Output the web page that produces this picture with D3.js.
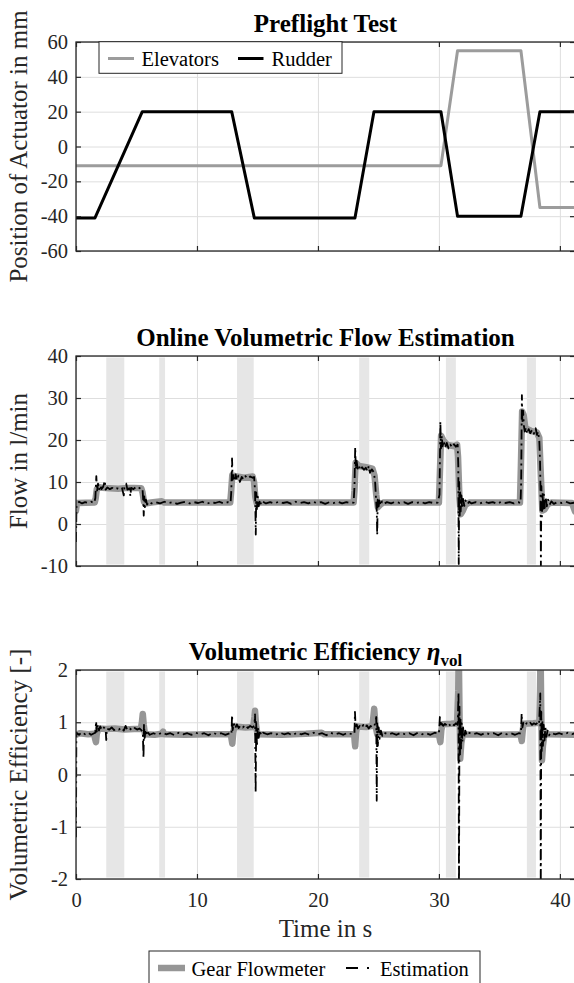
<!DOCTYPE html>
<html>
<head>
<meta charset="utf-8">
<script src="https://cdn.jsdelivr.net/npm/d3@7"></script>
<style>
  body { margin: 0; background: #fff; }
  svg, svg text { font-family: "Liberation Serif", "LiberationSerif", "Tinos", "Times New Roman", Times, "DejaVu Serif", serif; }
</style>
</head>
<body>
<svg id="fig" width="574" height="983"></svg>
<script>
// ---------- data ----------
// Preflight test: actuator positions (mm) at the ramp corners
const rudderTime = [0, 1.57, 5.48, 12.87, 14.74, 23.06, 24.63, 30.17, 31.54, 36.78, 38.35, 41.25];
const rudderPos  = [-41, -41, 20, 20, -41, -41, 20, 20, -40, -40, 20, 20];
const elevTime   = [0, 30.17, 31.54, 36.78, 38.35, 41.25];
const elevPos    = [-11, -11, 55, 55, -35, -35];

// Shaded intervals (s)
const bandStart = [2.50, 6.88, 13.31, 23.41, 30.58, 37.27];
const bandEnd   = [3.99, 7.36, 14.69, 24.24, 31.40, 38.02];

// Gear flowmeter, volumetric flow (l/min)
const gearFlowTime = [0, 0.08, 1.55, 1.62, 1.72, 1.85, 2.2, 2.8, 3.5, 4.2, 4.8, 5.4, 5.5, 5.62, 5.75, 6.2, 7.1, 7.3,
  12.75, 12.82, 12.92, 13.3, 13.9, 14.6, 14.72, 14.82, 14.95, 15.2,
  22.95, 23.02, 23.12, 23.4, 24.0, 24.5, 24.68, 24.82, 24.95, 25.15, 25.4,
  30.0, 30.08, 30.18, 30.35, 30.7, 31.3, 31.5, 31.58, 31.7, 31.8, 31.95, 32.2, 32.5,
  36.7, 36.78, 36.88, 37.0, 37.15, 37.6, 38.1, 38.3, 38.42, 38.55, 38.75, 39.0, 39.3, 41.0, 41.25];
const gearFlow = [3.2, 5.0, 5.1, 6.0, 8.3, 8.8, 8.6, 8.5, 8.4, 8.6, 8.6, 8.5, 7.5, 5.3, 4.9, 5.1, 5.4, 5.1,
  5.1, 7.5, 11.6, 11.3, 11.0, 11.3, 10.0, 6.5, 4.8, 5.1,
  5.1, 8.0, 14.6, 13.8, 13.5, 13.2, 11.5, 7.0, 4.0, 4.6, 5.1,
  5.1, 12.0, 21.0, 20.0, 18.8, 18.5, 18.9, 16.0, 6.0, 2.3, 3.0, 4.6, 5.1,
  5.1, 14.0, 26.8, 26.0, 22.8, 22.2, 21.8, 20.5, 12.0, 3.2, 3.5, 4.8, 5.1, 5.0, 3.0];

// Online estimation, volumetric flow (l/min)
const estFlowTime = [0, 0.04, 0.25, 0.5, 0.75, 1.0, 1.25, 1.5, 1.6, 1.68, 1.74, 1.82, 1.9, 2.0, 2.1, 2.25, 2.38, 2.45,
  2.6, 2.8, 3.0, 3.2, 3.4, 3.6, 3.8, 3.95, 4.0, 4.15, 4.25, 4.4, 4.5, 4.55, 4.75, 4.95, 5.15, 5.35, 5.5,
  5.56, 5.6, 5.64, 5.7, 5.78, 5.88, 6.0, 6.25,
  6.6, 6.95, 7.3, 7.65, 8.0, 8.35, 8.7, 9.05, 9.4, 9.75, 10.1, 10.45, 10.8, 11.15, 11.5, 11.85, 12.2, 12.55, 12.78,
  12.84, 12.9, 12.95, 13.02, 13.1, 13.2, 13.3, 13.42, 13.55, 13.7, 13.85, 14.0, 14.2, 14.4, 14.6, 14.72,
  14.8, 14.86, 14.9, 14.95, 15.02, 15.1, 15.2, 15.3, 15.45, 15.7,
  16.05, 16.4, 16.75, 17.1, 17.45, 17.8, 18.15, 18.5, 18.85, 19.2, 19.55, 19.9, 20.25, 20.6, 20.95, 21.3, 21.65, 22.0, 22.35, 22.7, 22.95,
  23.02, 23.08, 23.13, 23.2, 23.28, 23.38, 23.5, 23.65, 23.8, 23.95, 24.1, 24.2, 24.3, 24.45, 24.6, 24.72,
  24.8, 24.86, 24.9, 24.94, 25.0, 25.08, 25.18, 25.3, 25.45, 25.7,
  26.05, 26.4, 26.75, 27.1, 27.45, 27.8, 28.15, 28.5, 28.85, 29.2, 29.55, 29.9,
  30.05, 30.12, 30.17, 30.24, 30.3, 30.4, 30.52, 30.65, 30.8, 30.95, 31.1, 31.25, 31.4, 31.55,
  31.6, 31.64, 31.68, 31.72, 31.76, 31.8, 31.86, 31.92, 32.0, 32.1, 32.2, 32.35, 32.5, 32.7,
  33.05, 33.4, 33.75, 34.1, 34.45, 34.8, 35.15, 35.5, 35.85, 36.2, 36.55, 36.75,
  36.8, 36.86, 36.9, 36.96, 37.02, 37.1, 37.2, 37.3, 37.42, 37.55, 37.7, 37.85, 38.0, 38.1, 38.2, 38.3,
  38.36, 38.4, 38.43, 38.47, 38.52, 38.57, 38.62, 38.68, 38.75, 38.83, 38.92, 39.02, 39.15, 39.3, 39.5,
  39.8, 40.15, 40.5, 40.85, 41.25];
const estFlow = [-4.3, 4.6, 5.3, 4.9, 5.2, 5.0, 5.3, 5.0, 6.2, 11.4, 7.8, 9.6, 8.1, 9.2, 8.3, 8.9, 10.3, 8.2,
  8.7, 8.3, 8.6, 8.2, 8.5, 8.3, 8.6, 6.8, 8.7, 9.6, 8.2, 8.5, 6.6, 8.6, 8.3, 8.8, 8.4, 8.7, 8.3,
  5.5, 2.0, 6.6, 4.0, 5.8, 4.6, 5.3, 4.9,
  5.2, 4.9, 5.3, 5.0, 5.2, 4.8, 5.1, 5.3, 4.9, 5.2, 5.0, 5.3, 4.8, 5.2, 5.0, 5.3, 4.9, 5.2, 5.0,
  8.0, 15.6, 10.5, 12.0, 10.2, 11.8, 10.4, 11.5, 10.0, 11.2, 10.6, 11.4, 10.8, 11.3, 11.0, 11.2,
  8.0, -2.5, 7.5, 3.5, 6.5, 4.2, 5.8, 4.6, 5.3, 4.9,
  5.2, 4.9, 5.3, 5.0, 5.2, 4.8, 5.3, 5.0, 5.2, 4.9, 5.3, 5.0, 5.2, 4.8, 5.2, 5.0, 5.3, 4.9, 5.2, 5.0, 5.1,
  9.0, 18.3, 13.0, 15.0, 13.2, 14.0, 12.8, 13.5, 12.9, 13.4, 12.6, 13.8, 12.2, 13.0, 12.4, 10.5,
  6.0, 3.2, -2.6, 5.8, 3.6, 5.6, 4.4, 5.4, 4.8, 5.2,
  4.9, 5.3, 5.0, 5.2, 4.8, 5.2, 5.0, 5.3, 4.9, 5.2, 5.0, 5.1,
  7.0, 24.4, 18.0, 21.0, 18.5, 19.8, 18.2, 19.3, 18.0, 18.9, 18.2, 19.0, 18.4, 18.9,
  14.0, -9.5, 10.0, 2.0, 7.5, 3.0, 6.8, 3.8, 6.0, 4.3, 5.6, 4.7, 5.3, 4.9,
  5.2, 4.9, 5.3, 5.0, 5.2, 4.8, 5.3, 5.0, 5.2, 4.9, 5.2, 5.0,
  10.0, 30.7, 24.0, 27.0, 23.5, 22.0, 23.0, 21.5, 22.6, 21.6, 22.4, 21.5, 22.8, 21.2, 22.0, 19.8,
  15.0, 8.0, -10.0, 9.0, 1.8, 7.5, 3.0, 7.0, 3.8, 6.3, 4.2, 5.8, 4.6, 5.4, 4.8,
  5.2, 5.0, 5.3, 4.9, 5.1];

// Gear flowmeter, volumetric efficiency (-)
const gearEffTime = [0, 0.3, 1.0, 1.5, 1.58, 1.65, 1.72, 1.85, 2.5, 3.2, 4.0, 4.8, 5.35, 5.45, 5.52, 5.6, 5.7,
  6.5, 7.1, 7.2, 7.3, 9.0, 11.0, 12.8, 12.87, 12.92, 13.0, 13.1, 14.0, 14.65, 14.75, 14.8, 14.88, 15.0,
  17.0, 19.0, 20.3, 20.5, 23.0, 23.04, 23.08, 23.15, 23.25, 24.0, 24.5, 24.58, 24.65, 24.75, 24.9,
  27.0, 30.0, 30.07, 30.12, 30.2, 30.3, 31.0, 31.5, 31.6, 31.64, 31.7, 31.76, 31.85, 32.0, 32.2,
  35.0, 36.75, 36.8, 36.85, 36.92, 37.0, 37.8, 38.3, 38.36, 38.4, 38.46, 38.52, 38.6, 38.75, 39.0, 41.25];
const gearEff = [0.76, 0.79, 0.77, 0.78, 0.68, 0.62, 0.78, 0.88, 0.87, 0.88, 0.86, 0.87, 0.87, 1.0, 1.16, 0.95, 0.77,
  0.76, 0.78, 0.82, 0.77, 0.76, 0.77, 0.77, 0.66, 0.59, 0.8, 0.92, 0.9, 0.91, 1.1, 1.22, 0.95, 0.77,
  0.76, 0.78, 0.8, 0.77, 0.77, 0.62, 0.54, 0.8, 0.92, 0.91, 0.93, 1.1, 1.26, 0.95, 0.77,
  0.76, 0.77, 0.68, 0.62, 0.85, 0.96, 0.97, 0.98, 1.6, 2.4, 1.2, 0.3, 0.6, 0.8, 0.77,
  0.76, 0.77, 0.7, 0.64, 0.82, 0.97, 0.98, 0.99, 1.6, 2.4, 1.2, 0.27, 0.55, 0.82, 0.77, 0.76];

// Online estimation, volumetric efficiency (-)
const estEffTime = [0, 0.03, 0.25, 0.5, 0.75, 1.0, 1.25, 1.5, 1.6, 1.66, 1.72, 1.8, 1.9, 2.0, 2.15, 2.3, 2.45, 2.5, 2.55,
  2.75, 2.95, 3.15, 3.35, 3.55, 3.75, 3.95, 4.1, 4.25, 4.45, 4.65, 4.85, 5.05, 5.25, 5.4, 5.52,
  5.58, 5.62, 5.68, 5.75, 5.85, 5.95, 6.1,
  6.4, 6.75, 7.1, 7.45, 7.8, 8.15, 8.5, 8.85, 9.2, 9.55, 9.9, 10.25, 10.6, 10.95, 11.3, 11.65, 12.0, 12.35, 12.7, 12.85,
  12.9, 12.95, 13.05, 13.15, 13.3, 13.45, 13.6, 13.8, 14.0, 14.2, 14.4, 14.6, 14.75,
  14.8, 14.85, 14.9, 14.96, 15.03, 15.1, 15.2, 15.3, 15.45,
  15.8, 16.15, 16.5, 16.85, 17.2, 17.55, 17.9, 18.25, 18.6, 18.95, 19.3, 19.65, 20.0, 20.35, 20.7, 21.05, 21.4, 21.75, 22.1, 22.45, 22.8, 23.02,
  23.06, 23.12, 23.2, 23.3, 23.45, 23.6, 23.75, 23.9, 24.05, 24.2, 24.35, 24.5, 24.65, 24.75,
  24.82, 24.86, 24.9, 24.95, 25.02, 25.1, 25.2, 25.32, 25.45,
  25.8, 26.15, 26.5, 26.85, 27.2, 27.55, 27.9, 28.25, 28.6, 28.95, 29.3, 29.65, 30.0,
  30.08, 30.14, 30.22, 30.35, 30.5, 30.65, 30.8, 30.95, 31.1, 31.25, 31.4, 31.55,
  31.62, 31.66, 31.7, 31.74, 31.78, 31.83, 31.88, 31.94, 32.0, 32.08, 32.18, 32.3, 32.45,
  32.8, 33.15, 33.5, 33.85, 34.2, 34.55, 34.9, 35.25, 35.6, 35.95, 36.3, 36.6, 36.78,
  36.84, 36.9, 36.98, 37.1, 37.25, 37.4, 37.55, 37.7, 37.85, 38.0, 38.15, 38.28,
  38.38, 38.42, 38.46, 38.5, 38.55, 38.6, 38.66, 38.73, 38.8, 38.88, 38.98, 39.1, 39.25,
  39.6, 39.95, 40.3, 40.65, 41.0, 41.25];
const estEff = [-1.2, 0.8, 0.76, 0.81, 0.77, 0.8, 0.76, 0.79, 0.8, 1.02, 0.82, 0.96, 0.84, 0.92, 0.85, 0.9, 0.86, 0.66, 0.88,
  0.86, 0.9, 0.85, 0.88, 0.86, 0.9, 0.84, 0.93, 0.85, 0.88, 0.84, 0.89, 0.86, 0.88, 0.85, 0.82,
  0.32, 0.95, 0.7, 0.86, 0.74, 0.8, 0.76,
  0.79, 0.76, 0.8, 0.77, 0.79, 0.75, 0.8, 0.77, 0.79, 0.76, 0.8, 0.77, 0.79, 0.75, 0.8, 0.77, 0.79, 0.76, 0.79, 0.77,
  1.14, 0.85, 0.98, 0.88, 0.96, 0.89, 0.94, 0.9, 0.95, 0.89, 0.93, 0.9, 0.94,
  1.15, -0.34, 1.0, 0.55, 0.92, 0.7, 0.85, 0.75, 0.8,
  0.77, 0.79, 0.76, 0.8, 0.77, 0.79, 0.75, 0.8, 0.77, 0.79, 0.76, 0.8, 0.77, 0.79, 0.75, 0.8, 0.77, 0.79, 0.76, 0.8, 0.77, 0.78,
  1.2, 0.88, 0.96, 0.88, 0.93, 0.89, 0.95, 0.9, 0.94, 0.88, 0.93, 0.9, 0.92, 1.0,
  1.1, -0.5, 0.98, 0.55, 0.9, 0.68, 0.84, 0.74, 0.8,
  0.77, 0.79, 0.76, 0.8, 0.77, 0.79, 0.75, 0.8, 0.77, 0.79, 0.76, 0.8, 0.78,
  1.1, 0.92, 0.98, 0.93, 0.97, 0.94, 0.98, 0.93, 0.97, 0.94, 0.98, 0.95,
  1.57, -2.3, 1.3, 0.35, 1.1, 0.5, 0.98, 0.62, 0.9, 0.7, 0.84, 0.75, 0.8,
  0.77, 0.79, 0.76, 0.8, 0.77, 0.79, 0.75, 0.8, 0.77, 0.79, 0.76, 0.79, 0.78,
  1.17, 0.9, 0.99, 0.94, 0.98, 0.95, 0.99, 0.95, 0.98, 0.96, 0.99, 0.96,
  1.55, -2.3, 1.2, 0.45, 1.05, 0.55, 0.95, 0.65, 0.9, 0.72, 0.84, 0.75, 0.8,
  0.77, 0.79, 0.76, 0.8, 0.77, 0.79];

// Axis ticks
const timeTicks = [0, 10, 20, 30, 40];
const posTicks  = [-60, -40, -20, 0, 20, 40, 60];
const flowTicks = [-10, 0, 10, 20, 30, 40];
const effTicks  = [-2, -1, 0, 1, 2];

// ---------- layout & styles ----------
const svg = d3.select("#fig");
const serif = '"Liberation Serif", "LiberationSerif", "Tinos", "Times New Roman", Times, "DejaVu Serif", serif';
const plotLeft = 76, plotRight = 575;
const axisColor = "#262626", gridColor = "#dedede";
const tickFont = 20.5, labelFont = 25, titleFont = 25, legendFont = 20.5;
const grayLine = "#969696", bandColor = "#e6e6e6";

const x = d3.scaleLinear().domain([0, 41.25]).range([plotLeft, plotRight]);
const toPoints = (t, v) => t.map((ti, i) => [ti, v[i]]);

function makePanel(id, top, bottom, yDomain, yTicks, opts) {
  const y = d3.scaleLinear().domain(yDomain).range([bottom, top]);
  const g = svg.append("g");
  const h = bottom - top;

  g.append("clipPath").attr("id", "clip-" + id)
    .append("rect").attr("x", plotLeft).attr("y", top)
    .attr("width", plotRight - plotLeft).attr("height", h);

  // grid
  g.append("g").attr("transform", `translate(0,${bottom})`)
    .call(d3.axisBottom(x).tickValues(timeTicks).tickSize(-h).tickFormat(""))
    .call(a => a.select(".domain").remove())
    .call(a => a.selectAll("line").attr("stroke", gridColor).attr("stroke-width", 1));
  g.append("g").attr("transform", `translate(${plotLeft},0)`)
    .call(d3.axisLeft(y).tickValues(yTicks).tickSize(-(plotRight - plotLeft)).tickFormat(""))
    .call(a => a.select(".domain").remove())
    .call(a => a.selectAll("line").attr("stroke", gridColor).attr("stroke-width", 1));

  const layer = g.append("g").attr("clip-path", `url(#clip-${id})`);
  const front = g.append("g");

  // box with inward ticks
  const fmt = d => String(d);
  front.append("g").attr("transform", `translate(${plotLeft},0)`)
    .call(d3.axisLeft(y).tickValues(yTicks).tickSize(-5).tickSizeOuter(0).tickFormat(""))
    .call(a => a.select(".domain").remove());
  front.append("g").attr("transform", `translate(${plotRight},0)`)
    .call(d3.axisRight(y).tickValues(yTicks).tickSize(-5).tickSizeOuter(0).tickFormat(""))
    .call(a => a.select(".domain").remove());
  front.append("g").attr("transform", `translate(0,${top})`)
    .call(d3.axisTop(x).tickValues(timeTicks).tickSize(-5).tickSizeOuter(0).tickFormat(""))
    .call(a => a.select(".domain").remove());
  front.append("g").attr("transform", `translate(0,${bottom})`)
    .call(d3.axisBottom(x).tickValues(timeTicks).tickSize(-5).tickSizeOuter(0).tickFormat(""))
    .call(a => a.select(".domain").remove());
  front.selectAll(".tick line").attr("stroke", axisColor).attr("stroke-width", 1.2);
  front.append("rect").attr("x", plotLeft).attr("y", top)
    .attr("width", plotRight - plotLeft).attr("height", h)
    .attr("fill", "none").attr("stroke", axisColor).attr("stroke-width", 1.3);

  // y tick labels
  front.append("g").attr("transform", `translate(${plotLeft},0)`)
    .call(d3.axisLeft(y).tickValues(yTicks).tickSize(0).tickPadding(8).tickFormat(fmt))
    .call(a => a.select(".domain").remove())
    .attr("font-family", serif)
    .call(a => a.selectAll("text").attr("fill", axisColor)
      .attr("font-size", tickFont).attr("font-family", serif));

  // x tick labels
  if (opts.xLabels) {
    front.append("g").attr("transform", `translate(0,${bottom})`)
      .call(d3.axisBottom(x).tickValues(timeTicks).tickSize(0).tickPadding(13).tickFormat(fmt))
      .call(a => a.select(".domain").remove())
      .attr("font-family", serif)
      .call(a => a.selectAll("text").attr("fill", axisColor)
        .attr("font-size", tickFont).attr("font-family", serif));
  }

  // y label
  front.append("text")
    .attr("transform", `translate(27,${(top + bottom) / 2}) rotate(-90)`)
    .attr("text-anchor", "middle").attr("font-size", labelFont).attr("fill", axisColor)
    .attr("font-family", serif)
    .text(opts.yLabel);

  return { y, layer, front, top, bottom };
}

function drawBands(p) {
  p.layer.selectAll("rect.band").data(bandStart).join("rect").attr("class", "band")
    .attr("x", (d, i) => x(d)).attr("width", (d, i) => x(bandEnd[i]) - x(d))
    .attr("y", p.top + 1.5).attr("height", p.bottom - p.top - 3)
    .attr("fill", bandColor);
}

function drawLine(p, pts, stroke, width, dash) {
  const line = d3.line().x(d => x(d[0])).y(d => p.y(d[1]));
  const path = p.layer.append("path").datum(pts).attr("d", line)
    .attr("fill", "none").attr("stroke", stroke).attr("stroke-width", width)
    .attr("stroke-linejoin", "round").attr("stroke-linecap", "round");
  if (dash) path.attr("stroke-dasharray", dash).attr("stroke-linecap", "butt");
  return path;
}

const centerX = (plotLeft + plotRight) / 2;
function title(p, txt) {
  return svg.append("text").attr("x", centerX).attr("y", p.top - 10)
    .attr("text-anchor", "middle").attr("font-size", titleFont).attr("font-weight", "bold")
    .attr("font-family", serif).attr("fill", "#000").text(txt);
}

// ---------- panel 1: preflight test ----------
const p1 = makePanel("pos", 42, 251, [-60, 60], posTicks, { yLabel: "Position of Actuator in mm" });
title(p1, "Preflight Test");
drawLine(p1, toPoints(elevTime, elevPos), "#9c9c9c", 3);
drawLine(p1, toPoints(rudderTime, rudderPos), "#000", 3);

// legend
const lg1 = svg.append("g").attr("font-family", serif);
lg1.append("rect").attr("x", 99).attr("y", 41.7).attr("width", 243).attr("height", 31.6)
  .attr("fill", "#fff").attr("stroke", axisColor).attr("stroke-width", 1);
lg1.append("line").attr("x1", 108).attr("x2", 134).attr("y1", 58.5).attr("y2", 58.5)
  .attr("stroke", "#9c9c9c").attr("stroke-width", 3);
lg1.append("text").attr("x", 141.5).attr("y", 65.5).attr("font-size", legendFont).attr("fill", "#000").text("Elevators");
lg1.append("line").attr("x1", 238).attr("x2", 263.5).attr("y1", 58.5).attr("y2", 58.5)
  .attr("stroke", "#000").attr("stroke-width", 3);
lg1.append("text").attr("x", 271.5).attr("y", 65.5).attr("font-size", legendFont).attr("fill", "#000").text("Rudder");

// ---------- panel 2: volumetric flow ----------
const estDash = "10,4,2,4";
const p2 = makePanel("flow", 356, 566, [-10, 40], flowTicks, { yLabel: "Flow in l/min" });
title(p2, "Online Volumetric Flow Estimation");
drawBands(p2);
drawLine(p2, toPoints(gearFlowTime, gearFlow), grayLine, 6.5);
drawLine(p2, toPoints(estFlowTime, estFlow), "#000", 1.8, estDash);

// ---------- panel 3: volumetric efficiency ----------
const p3 = makePanel("eff", 670, 879, [-2, 2], effTicks, { yLabel: "Volumetric Efficiency [-]", xLabels: true });
const t3 = svg.append("text").attr("x", centerX).attr("y", p3.top - 10)
  .attr("text-anchor", "middle").attr("font-size", titleFont).attr("font-weight", "bold")
  .attr("font-family", serif).attr("fill", "#000");
t3.append("tspan").text("Volumetric Efficiency ");
t3.append("tspan").attr("font-style", "italic").text("η");
t3.append("tspan").attr("font-size", 17).attr("dy", 6).text("vol");
drawBands(p3);
drawLine(p3, toPoints(gearEffTime, gearEff), grayLine, 6.5);
drawLine(p3, toPoints(estEffTime, estEff), "#000", 1.8, estDash);

// x label
svg.append("text").attr("x", centerX).attr("y", 937).attr("text-anchor", "middle")
  .attr("font-family", serif)
  .attr("font-size", labelFont).attr("fill", axisColor).text("Time in s");

// bottom legend
const lg2 = svg.append("g").attr("font-family", serif);
lg2.append("rect").attr("x", 149).attr("y", 951).attr("width", 331).attr("height", 40)
  .attr("fill", "#fff").attr("stroke", axisColor).attr("stroke-width", 1);
lg2.append("line").attr("x1", 158).attr("x2", 185).attr("y1", 968).attr("y2", 968)
  .attr("stroke", grayLine).attr("stroke-width", 6.5);
lg2.append("text").attr("x", 191.5).attr("y", 975.5).attr("font-size", legendFont).attr("fill", "#000").text("Gear Flowmeter");
lg2.append("line").attr("x1", 346).attr("x2", 370).attr("y1", 968).attr("y2", 968)
  .attr("stroke", "#000").attr("stroke-width", 1.8).attr("stroke-dasharray", "12,9,2,9");
lg2.append("text").attr("x", 380).attr("y", 975.5).attr("font-size", legendFont).attr("fill", "#000").text("Estimation");
</script>
</body>
</html>
